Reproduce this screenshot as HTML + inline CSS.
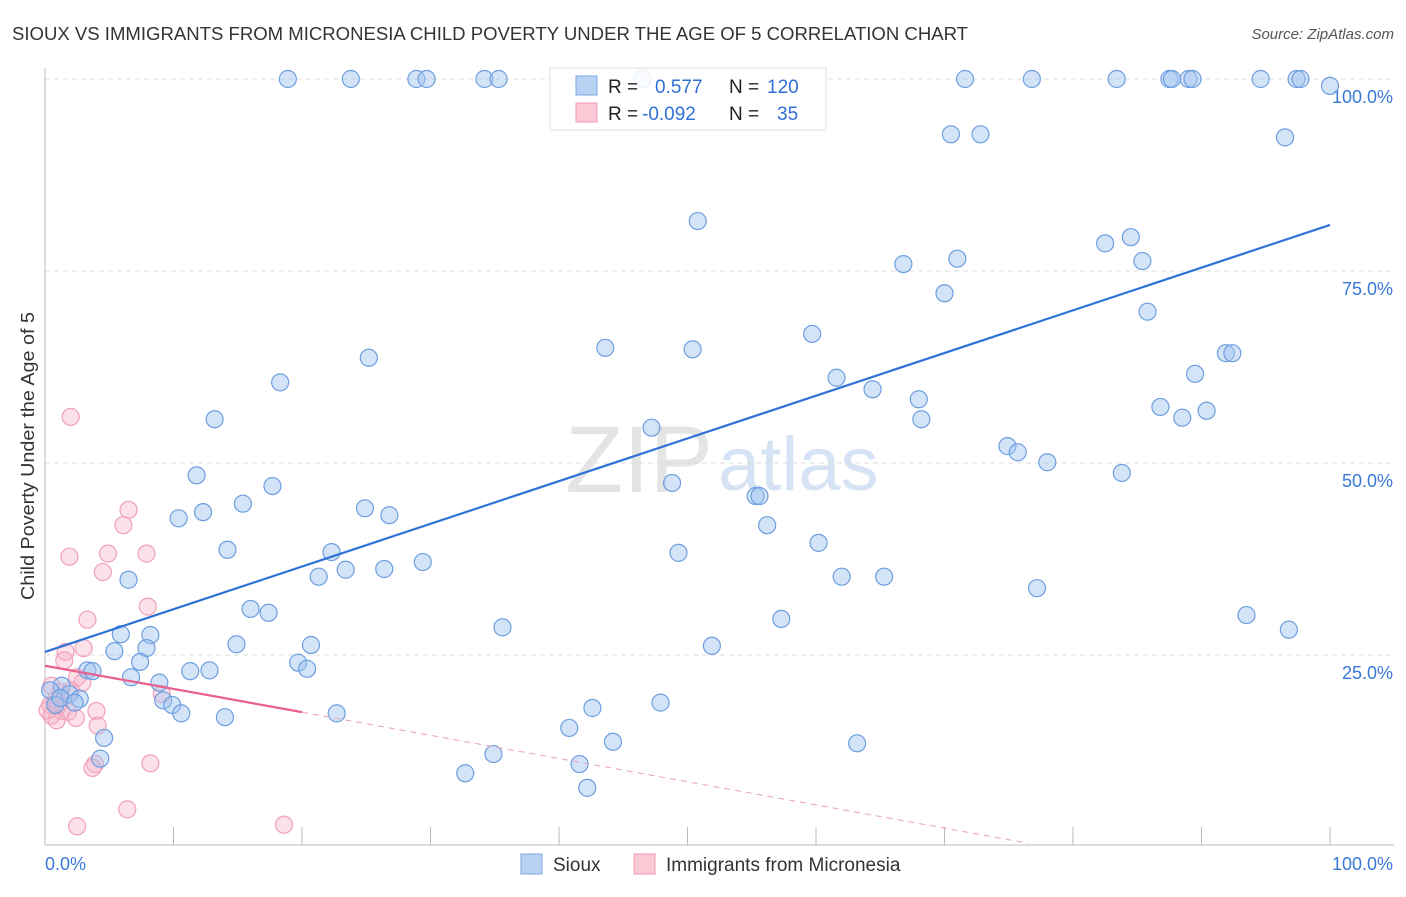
<!DOCTYPE html>
<html><head><meta charset="utf-8"><style>
body{margin:0;background:#fff;font-family:"Liberation Sans",sans-serif}
svg text{font-family:"Liberation Sans",sans-serif}
</style></head><body>
<svg id="c" width="1406" height="892" xmlns="http://www.w3.org/2000/svg">
<text x="12" y="40" font-size="18" fill="#333" textLength="956" lengthAdjust="spacingAndGlyphs">SIOUX VS IMMIGRANTS FROM MICRONESIA CHILD POVERTY UNDER THE AGE OF 5 CORRELATION CHART</text>
<text x="1394" y="39" font-size="15" fill="#555" text-anchor="end" font-style="italic">Source: ZipAtlas.com</text>
<text x="713" y="492" font-size="95" fill="#e4e4e4" font-family="Liberation Serif" text-anchor="end">ZIP</text>
<text x="718" y="490" font-size="76" fill="#d5e3f4">atlas</text>
<text transform="translate(34,456) rotate(-90)" font-size="18" fill="#333" text-anchor="middle" textLength="288" lengthAdjust="spacingAndGlyphs">Child Poverty Under the Age of 5</text>
<g id="grid"></g><g id="pts"></g><g id="lines"></g>
<g>
<rect x="550" y="68" width="276" height="62" fill="rgba(255,255,255,0.85)" stroke="#ddd"/>
<rect x="576" y="76" width="21" height="19" fill="#b8d2f4" stroke="#7aa7e4"/>
<rect x="576" y="103" width="21" height="19" fill="#fbc8d6" stroke="#f09ab4"/>
<text x="608" y="93" font-size="19" fill="#222">R = </text><text x="655" y="93" font-size="19" fill="#2f6fd6">0.577</text>
<text x="729" y="93" font-size="19" fill="#222">N = </text><text x="767" y="93" font-size="19" fill="#2f6fd6">120</text>
<text x="608" y="120" font-size="19" fill="#222">R = </text><text x="642" y="120" font-size="19" fill="#2f6fd6">-0.092</text>
<text x="729" y="120" font-size="19" fill="#222">N = </text><text x="777" y="120" font-size="19" fill="#2f6fd6">35</text>
</g>
<g>
<rect x="521" y="854" width="21" height="20" fill="#b8d2f4" stroke="#7aa7e4"/>
<text x="553" y="871" font-size="19" fill="#333">Sioux</text>
<rect x="634" y="854" width="21" height="20" fill="#fbc8d6" stroke="#f09ab4"/>
<text x="666" y="871" font-size="19" fill="#333">Immigrants from Micronesia</text>
</g>
</svg>
<script>
const siouxX=[18.9,23.8,28.9,29.7,34.2,35.3,46.5,71.6,76.8,83.4,87.5,87.7,89.0,89.3,94.6,97.4,97.7,100,70.5,72.8,96.5,50.8,82.5,84.5,66.8,71.0,85.4,70.0,85.8,59.7,25.2,43.6,50.4,91.9,92.4,18.3,61.6,89.5,64.4,68.0,13.2,68.2,86.8,88.5,90.4,47.2,74.9,75.7,78.0,11.8,83.8,17.7,48.8,55.3,55.6,15.4,12.3,10.4,24.9,26.8,56.2,14.2,22.3,49.3,60.2,29.4,6.5,23.4,26.4,21.3,62.0,65.3,77.2,16.0,17.4,57.3,93.5,96.8,5.9,8.2,35.6,7.9,14.9,20.7,51.9,5.4,7.4,19.7,20.4,3.3,3.7,11.3,12.8,6.7,8.9,1.3,1.9,2.7,9.2,9.9,10.6,14.0,22.7,42.6,47.9,40.8,4.6,4.3,34.9,44.2,63.2,41.6,32.7,42.2,0.4,0.8,1.2,2.3];
const siouxY=[100,100,100,100,100,100,100,100,100,100,100,100,100,100,100,100,100,99.1,92.8,92.8,92.4,81.5,78.6,79.4,75.9,76.6,76.3,72.1,69.7,66.8,63.7,65.0,64.8,64.3,64.3,60.5,61.1,61.6,59.6,58.3,55.7,55.7,57.3,55.9,56.8,54.6,52.2,51.4,50.1,48.4,48.7,47.0,47.4,45.7,45.7,44.7,43.6,42.8,44.1,43.2,41.9,38.7,38.4,38.3,39.6,37.1,34.8,36.1,36.2,35.2,35.2,35.2,33.7,31.0,30.5,29.7,30.2,28.3,27.7,27.6,28.6,25.9,26.4,26.3,26.2,25.5,24.1,24.0,23.2,23.0,22.9,22.9,23.0,22.1,21.4,21.0,19.9,19.3,19.1,18.5,17.4,16.9,17.4,18.1,18.8,15.5,14.2,11.5,12.1,13.7,13.5,10.8,9.6,7.7,20.4,18.5,19.4,18.8];
const micX=[2.0,6.5,6.1,1.9,4.9,7.9,4.5,8.0,3.3,3.0,1.6,1.5,2.5,2.9,0.5,1.2,2.0,0.8,1.3,4.0,1.8,2.4,4.1,0.5,0.9,3.9,3.7,8.2,6.4,2.5,18.6,9.1,0.4,0.2,1.0];
const micY=[56.0,43.9,41.9,37.8,38.2,38.2,35.8,31.3,29.6,25.9,25.4,24.3,22.1,21.4,21.0,20.2,20.4,19.1,17.7,17.7,17.6,16.8,15.8,17.1,16.5,10.8,10.3,10.9,4.9,2.7,2.9,19.9,18.5,17.8,18.4];
const siouxTrend=[25.4,81.0];
const micTrend=[23.6,-0.302];
const yTicks=[25,50,75,100];
const xTicks=[0,10,20,30,40,50,60,70,80,90,100];
const NS='http://www.w3.org/2000/svg';
const sx=v=>45+v*12.85, sy=v=>847-v*7.68;
function mk(t,a,p){const e=document.createElementNS(NS,t);for(const k in a)e.setAttribute(k,a[k]);p.appendChild(e);return e;}
const g=document.getElementById('grid');
yTicks.forEach(t=>{
 const l=mk('line',{x1:45,x2:1394,y1:sy(t),y2:sy(t),stroke:'#ddd','stroke-dasharray':'5,4'},g);
 
 
 const tx=mk('text',{x:1393,y:sy(t)+24,'font-size':18,fill:'#3a78d8','text-anchor':'end'},g);tx.textContent=t.toFixed(1)+'%';
 
 
});
mk('line',{x1:45,x2:45,y1:68,y2:845,stroke:'#bbb'},g);
const xa=mk('line',{x1:45,x2:1394,y1:845,y2:845,stroke:'#bbb'},g);


xTicks.forEach(t=>{const l=mk('line',{x1:sx(t),x2:sx(t),y1:827,y2:845,stroke:'#bbb'},g);
 
 });
const l0=mk('text',{x:45,y:870,'font-size':18,fill:'#3a78d8'},g);l0.textContent='0.0%';


const l1=mk('text',{x:1393,y:870,'font-size':18,fill:'#3a78d8','text-anchor':'end'},g);l1.textContent='100.0%';


const P=document.getElementById('pts');
micX.forEach((x,i)=>{const c=mk('circle',{cx:sx(x),cy:sy(micY[i]),r:8.5,fill:'rgba(248,180,200,0.4)',stroke:'#f0a0b8','stroke-width':1.2},P);
 
 });
siouxX.forEach((x,i)=>{const c=mk('circle',{cx:sx(x),cy:sy(siouxY[i]),r:8.5,fill:'rgba(160,196,240,0.45)',stroke:'#6d9ee0','stroke-width':1.2},P);
 
 });
const L=document.getElementById('lines');
const bl=mk('line',{x1:sx(0),y1:sy(siouxTrend[0]),x2:sx(100),y2:sy(siouxTrend[1]),stroke:'#2e72d6','stroke-width':2.2},L);


const my=x=>micTrend[0]+micTrend[1]*x;
const pl=mk('line',{x1:sx(0),y1:sy(my(0)),x2:sx(20),y2:sy(my(20)),stroke:'#e8608c','stroke-width':2.2},L);


const pd=mk('line',{x1:sx(20),y1:sy(my(20)),x2:sx(76.5),y2:sy(my(76.5)),stroke:'#e8a0b8','stroke-width':1,'stroke-dasharray':'6,5'},L);


</script>
</body></html>
